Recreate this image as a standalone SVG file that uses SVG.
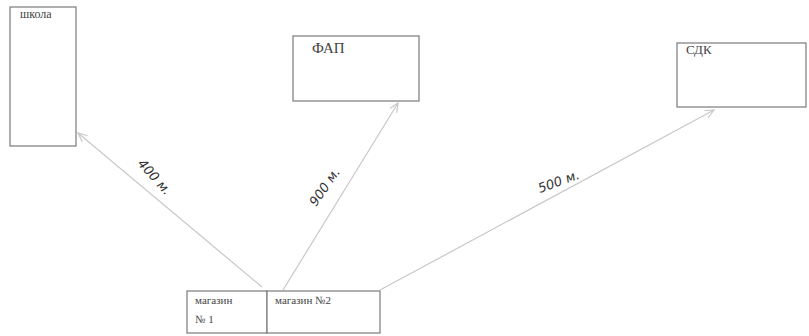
<svg xmlns="http://www.w3.org/2000/svg" width="809" height="336" viewBox="0 0 809 336">
<style>
.box{fill:#fff;stroke:#7a7a7a;stroke-width:1.2}
.t{font-family:"Liberation Serif",serif;fill:#444}
.hw{font-family:"DejaVu Sans",sans-serif;font-style:italic;fill:#333;font-size:13px}
.c{stroke:#c8c8c8;stroke-width:1.2;fill:none}
</style>
<defs>
<marker id="a" viewBox="0 0 10 10" refX="9" refY="5" markerWidth="10" markerHeight="10" orient="auto" markerUnits="userSpaceOnUse">
<path d="M0,1 L9,5 L0,9" fill="none" stroke="#c8c8c8" stroke-width="1.2"/>
</marker>
</defs>
<rect width="809" height="336" fill="#fff"/>
<g id="shkola"><rect class="box" x="10" y="7" width="66" height="139"/><text class="t" x="20" y="18" font-size="12">школа</text></g>
<g id="fap"><rect class="box" x="293" y="36" width="126" height="65"/><text class="t" x="312" y="53" font-size="15">ФАП</text></g>
<g id="sdk"><rect class="box" x="677" y="43" width="129" height="64"/><text class="t" x="686" y="54" font-size="13">СДК</text></g>
<g id="magazin1"><rect class="box" x="187" y="291" width="80" height="42"/><text class="t" x="195" y="304" font-size="11">магазин</text><text class="t" x="195" y="323" font-size="11">№ 1</text></g>
<g id="magazin2"><rect class="box" x="267" y="291" width="113" height="42"/><text class="t" x="275" y="304" font-size="11">магазин №2</text></g>
<g id="connectors">
<line class="c" x1="262" y1="287" x2="78" y2="133" marker-end="url(#a)"/>
<line class="c" x1="283" y1="290" x2="398" y2="103" marker-end="url(#a)"/>
<line class="c" x1="380" y1="290" x2="714" y2="110" marker-end="url(#a)"/>
<text class="hw" transform="translate(137,164) rotate(48)">400 м.</text>
<text class="hw" transform="translate(316,207) rotate(-55)">900 м.</text>
<text class="hw" transform="translate(540,193) rotate(-20)">500 м.</text>
</g>
</svg>
